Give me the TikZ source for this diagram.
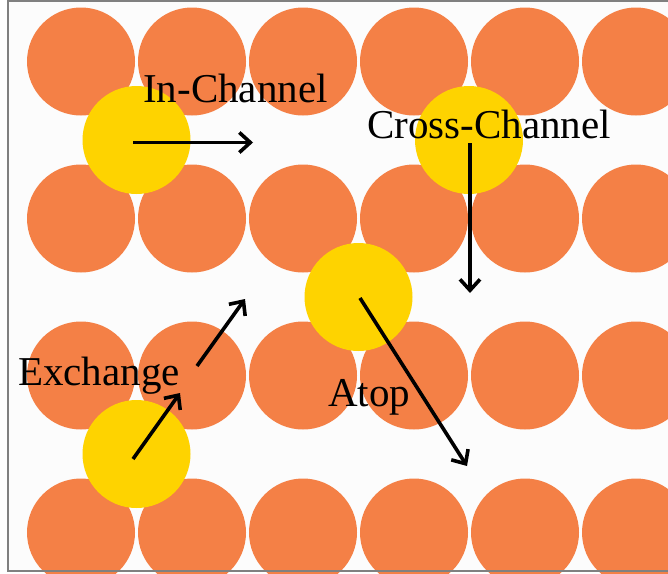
\documentclass[tikz,border=0pt]{standalone}
\usepackage{fontspec}
\setmainfont{Liberation Serif}
\usetikzlibrary{arrows.meta}
\definecolor{atomorange}{RGB}{244,128,70}
\definecolor{adatom}{RGB}{254,211,0}
\definecolor{framegray}{RGB}{128,128,128}
\definecolor{paper}{RGB}{252,252,252}
\tikzset{
  host/.style={circle, fill=atomorange, draw=none, minimum size=108pt, inner sep=0pt},
  guest/.style={circle, fill=adatom, draw=none, minimum size=108pt, inner sep=0pt},
  hop/.style={line width=3.6pt, -{Straight Barb[length=11pt,width=20pt,line width=3.6pt]}},
  lbl/.style={anchor=base west, inner sep=0pt, font=\fontsize{41}{41}\selectfont}
}
\begin{document}
\begin{tikzpicture}[x=1pt,y=-1pt]
  \useasboundingbox (0,0) rectangle (668,573);
  \clip (0,0) rectangle (668,573);
  \fill[white] (0,0) rectangle (668,573);
  \fill[paper] (8,1) rectangle (668,571);

  % substrate rows
  \foreach \r/\yy in {1/61.5,2/218.5,3/375.5,4/532.5}{
    \foreach \c/\xx in {1/81,2/192,3/303,4/414,5/525,6/636}{
      \node[host] (h\r\c) at (\xx,\yy) {};
    }
  }

  % frame
  \draw[framegray, line width=2.2pt] (670,1) -- (8,1) -- (8,571) -- (670,571);

  % adatoms
  \node[guest] (inch) at (136.5,140) {};
  \node[guest] (cross) at (469,140) {};
  \node[guest] (atop) at (358.5,297) {};
  \node[guest] (exch) at (136.5,454) {};

  % hop end points
  \coordinate (inA) at (133,142.5);
  \coordinate (inB) at (253,142.5);
  \coordinate (crA) at (470,143);
  \coordinate (crB) at (470,293);
  \coordinate (atA) at (360,298);
  \coordinate (atB) at (467,466);
  \coordinate (exA) at (133,459);
  \coordinate (exB) at (180,393);
  \coordinate (exC) at (197,366);
  \coordinate (exD) at (245,299);

  \draw[hop] (inA) -- (inB);
  \draw[hop] (crA) -- (crB);
  \draw[hop] (atA) -- (atB);
  \draw[hop] (exA) -- (exB);
  \draw[hop] (exC) -- (exD);

  % labels
  \node[lbl] (tin) at (143,102) {In-Channel};
  \node[lbl] (tcr) at (367,138) {Cross-Channel};
  \node[lbl] (tex) at (18,385) {Exchange};
  \node[lbl] (tat) at (328,406) {Atop};
\end{tikzpicture}
\end{document}
